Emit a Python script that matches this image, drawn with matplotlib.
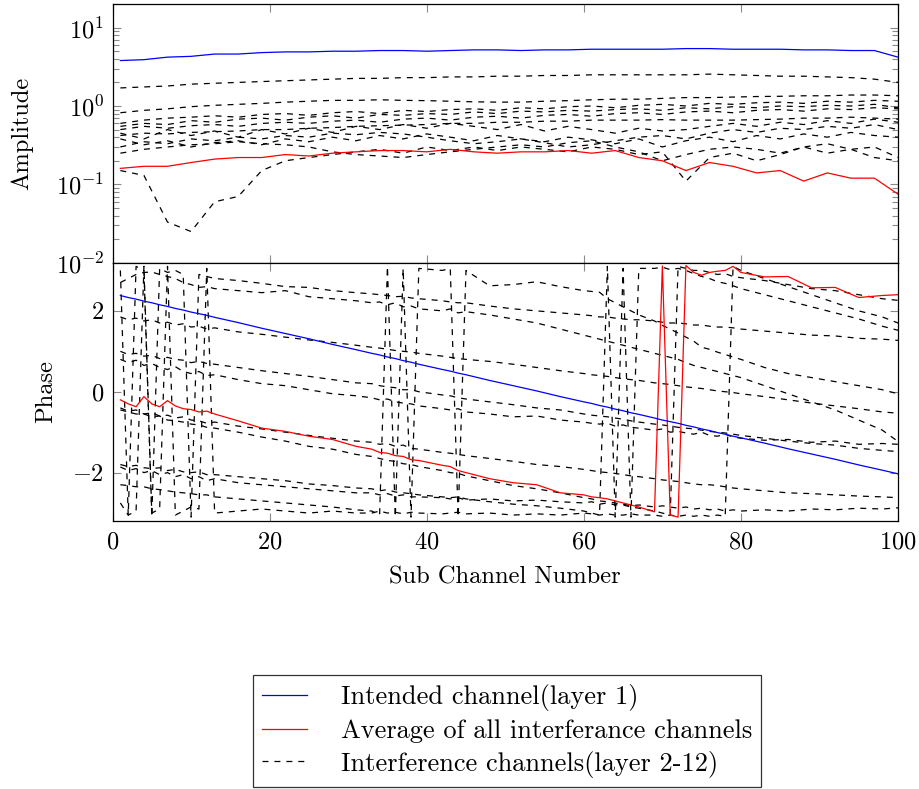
import numpy as np
import matplotlib
matplotlib.use("Agg")
import matplotlib.pyplot as plt
from matplotlib.ticker import LogLocator, NullFormatter, FixedLocator
from matplotlib.lines import Line2D

plt.rcParams['font.family'] = 'serif'
plt.rcParams['font.serif'] = ['cmr10']
plt.rcParams['mathtext.fontset'] = 'cm'
plt.rcParams['axes.formatter.use_mathtext'] = True
plt.rcParams['lines.scale_dashes'] = False

# sub channels used for the amplitude traces (every third one)
sub = np.arange(1, 101, 3)

# ---- amplitude ----
amp_l1 = [3.8, 3.9, 4.2, 4.3, 4.6, 4.6, 4.8, 4.9, 4.9, 5.0, 5.0, 5.1, 5.1, 5.0, 5.1, 5.2, 5.2,
          5.1, 5.2, 5.2, 5.3, 5.3, 5.3, 5.3, 5.4, 5.4, 5.3, 5.3, 5.3, 5.2, 5.2, 5.1, 5.1, 4.2]
amp_avg = [0.16, 0.17, 0.17, 0.19, 0.21, 0.22, 0.22, 0.24, 0.23, 0.25, 0.26, 0.27, 0.27, 0.26, 0.28, 0.26, 0.25,
           0.26, 0.26, 0.27, 0.25, 0.27, 0.22, 0.20, 0.15, 0.19, 0.17, 0.14, 0.15, 0.11, 0.14, 0.12, 0.12, 0.075]
amp_l2 = [1.7, 1.75, 1.8, 1.9, 1.95, 2.0, 2.05, 2.1, 2.15, 2.2, 2.25, 2.25, 2.3, 2.3, 2.35, 2.35, 2.4,
          2.4, 2.45, 2.45, 2.5, 2.5, 2.5, 2.5, 2.5, 2.55, 2.5, 2.45, 2.4, 2.4, 2.35, 2.3, 2.2, 2.0]
amp_l3 = [0.82, 0.88, 0.92, 0.98, 1.02, 1.05, 1.08, 1.12, 1.15, 1.18, 1.18, 1.2, 1.18, 1.17, 1.15, 1.13, 1.12,
          1.12, 1.15, 1.17, 1.2, 1.22, 1.22, 1.25, 1.28, 1.28, 1.3, 1.32, 1.33, 1.35, 1.35, 1.38, 1.38, 1.35]
amp_l4 = [0.6, 0.66, 0.7, 0.72, 0.75, 0.72, 0.78, 0.8, 0.76, 0.82, 0.85, 0.8, 0.88, 0.85, 0.9, 0.92, 0.88,
          0.95, 0.92, 0.98, 1.0, 0.95, 1.02, 1.05, 1.0, 1.08, 1.05, 1.1, 1.12, 1.08, 1.15, 1.12, 1.18, 1.15]
amp_l5 = [0.55, 0.6, 0.58, 0.65, 0.62, 0.68, 0.7, 0.66, 0.72, 0.75, 0.7, 0.78, 0.76, 0.8, 0.78, 0.84, 0.8,
          0.86, 0.84, 0.88, 0.86, 0.9, 0.92, 0.88, 0.95, 0.92, 0.98, 0.95, 1.0, 0.98, 1.02, 1.0, 1.05, 0.95]
amp_l6 = [0.42, 0.45, 0.44, 0.46, 0.47, 0.48, 0.5, 0.5, 0.52, 0.53, 0.55, 0.56, 0.57, 0.58, 0.6, 0.6, 0.62,
          0.62, 0.64, 0.64, 0.66, 0.66, 0.66, 0.67, 0.66, 0.66, 0.66, 0.67, 0.68, 0.7, 0.7, 0.72, 0.7, 0.68]
amp_l7 = [0.45, 0.38, 0.5, 0.42, 0.48, 0.4, 0.5, 0.44, 0.52, 0.46, 0.55, 0.5, 0.58, 0.52, 0.6, 0.55, 0.5,
          0.58, 0.48, 0.55, 0.5, 0.45, 0.52, 0.48, 0.5, 0.55, 0.6, 0.55, 0.62, 0.58, 0.65, 0.6, 0.68, 0.62]
amp_l8 = [0.38, 0.32, 0.36, 0.3, 0.34, 0.36, 0.32, 0.38, 0.35, 0.4, 0.36, 0.42, 0.38, 0.44, 0.4, 0.36, 0.42,
          0.38, 0.35, 0.4, 0.37, 0.33, 0.38, 0.3, 0.36, 0.4, 0.35, 0.42, 0.38, 0.44, 0.4, 0.46, 0.42, 0.4]
amp_l9 = [0.25, 0.28, 0.3, 0.32, 0.33, 0.35, 0.33, 0.32, 0.3, 0.26, 0.24, 0.23, 0.22, 0.24, 0.26, 0.28, 0.3,
          0.32, 0.3, 0.34, 0.36, 0.3, 0.26, 0.2, 0.24, 0.28, 0.3, 0.28, 0.25, 0.3, 0.33, 0.28, 0.22, 0.2]
amp_l10 = [0.5, 0.55, 0.52, 0.56, 0.58, 0.55, 0.6, 0.62, 0.6, 0.64, 0.66, 0.62, 0.68, 0.7, 0.66, 0.72, 0.74,
           0.7, 0.76, 0.78, 0.74, 0.8, 0.82, 0.78, 0.84, 0.86, 0.82, 0.88, 0.9, 0.86, 0.92, 0.9, 0.95, 0.92]
amp_l11 = [0.3, 0.35, 0.33, 0.38, 0.36, 0.4, 0.38, 0.42, 0.4, 0.45, 0.43, 0.46, 0.44, 0.4, 0.36, 0.33, 0.35,
           0.38, 0.34, 0.3, 0.32, 0.36, 0.4, 0.42, 0.38, 0.45, 0.5, 0.46, 0.52, 0.5, 0.55, 0.52, 0.58, 0.5]
amp_l12 = [0.15, 0.13, 0.033, 0.025, 0.06, 0.07, 0.15, 0.2, 0.22, 0.24, 0.26, 0.28, 0.25, 0.3, 0.27, 0.3, 0.27,
           0.3, 0.28, 0.26, 0.3, 0.28, 0.24, 0.26, 0.11, 0.22, 0.25, 0.2, 0.24, 0.3, 0.25, 0.28, 0.3, 0.22]

# ---- phase (denser where the traces wrap around +-pi) ----
phase_x = [1, 2, 3, 4, 5, 6, 7, 8, 9, 10, 11, 12, 13,
           16, 19, 22, 25, 28, 31,
           33, 34, 35, 36, 37, 38, 39,
           42, 43, 44, 45,
           48, 51, 54, 57,
           60, 61, 62, 63, 64, 65, 66, 67,
           69, 70, 71, 72, 73, 74, 75, 76, 77, 78, 79, 80,
           83, 86, 89, 92, 95, 98, 100]

phase_l1 = [2.38, 2.33, 2.29, 2.24, 2.2, 2.15, 2.11, 2.06, 2.02, 1.97, 1.93, 1.89, 1.84,
            1.71, 1.57, 1.44, 1.31, 1.17, 1.04,
            0.95, 0.91, 0.86, 0.82, 0.77, 0.73, 0.68,
            0.55, 0.51, 0.46, 0.42,
            0.28, 0.15, 0.02, -0.12,
            -0.25, -0.29, -0.34, -0.38, -0.43, -0.47, -0.52, -0.56,
            -0.65, -0.7, -0.74, -0.78, -0.83, -0.87, -0.92, -0.96, -1.01, -1.05, -1.1, -1.14,
            -1.27, -1.41, -1.54, -1.67, -1.81, -1.94, -2.03]
phase_avg = [-0.2, -0.3, -0.37, -0.12, -0.3, -0.37, -0.22, -0.35, -0.42, -0.44, -0.5, -0.48, -0.55,
             -0.72, -0.9, -0.98, -1.1, -1.18, -1.35,
             -1.42, -1.5, -1.52, -1.58, -1.6, -1.68, -1.7,
             -1.82, -1.85, -1.95, -2.0,
             -2.15, -2.25, -2.3, -2.5,
             -2.55, -2.6, -2.62, -2.65, -2.7, -2.75, -2.8, -2.85,
             -2.97, 3.11, -3.05, -3.1, 3.12, 2.95, 2.88, 2.95, 2.98, 3.0, 3.1, 2.95,
             2.84, 2.85, 2.57, 2.58, 2.33, 2.38, 2.4]
phase_l2 = [-0.45, -0.5, -0.55, -0.55, -0.62, -0.6, -0.7, -0.72, -0.75, -0.8, -0.82, -0.88, -0.9,
            -1.0, -1.12, -1.22, -1.35, -1.42, -1.55,
            -1.6, -1.65, -1.7, -1.72, -1.78, -1.8, -1.85,
            -1.95, -2.0, -2.02, -2.08,
            -2.2, -2.32, -2.4, -2.5,
            -2.62, -2.65, -2.7, -2.72, -2.75, -2.8, -2.85, -2.88,
            -2.95, -3.0, -3.05, 3.1, 3.05, 3.0, 3.0, 2.95, 2.9, 2.92, 2.85, 2.82,
            2.75, 2.65, 2.55, 2.5, 2.4, 2.3, 2.26]
phase_l3 = [-2.3, -2.32, -2.35, -2.35, -2.4, -2.42, -2.45, -2.48, -2.5, -2.52, -2.55, -2.55, -2.6,
            -2.65, -2.7, -2.75, -2.8, -2.85, -2.92,
            -2.95, -3.05, 3.1, -3.1, 3.05, -3.1, 3.05,
            3.0, 3.05, -3.1, 3.0,
            2.62, 2.65, 2.72, 2.6,
            2.5, 2.48, 2.46, 2.3, 2.2, 2.1, 2.0, 1.9,
            1.75, 1.64, 1.55, 1.45, 1.35, 1.25, 1.1, 1.05, 0.98, 0.92, 0.86, 0.8,
            0.6, 0.45, 0.35, 0.25, 0.15, 0.05, -0.05]
phase_l4 = [3.0, -3.05, 3.1, 3.0, -3.1, 3.05, 2.95, 3.0, 2.9, -3.1, 2.9, 2.85, 2.8,
            2.75, 2.68, 2.6, 2.58, 2.5, 2.45,
            2.42, 2.4, 2.38, 2.35, 2.36, 2.32, 2.3,
            2.25, 2.22, 2.2, 2.2,
            2.12, 2.05, 2.0, 1.95,
            1.9, 1.88, 1.85, 1.85, 1.82, 1.8, 1.78, 1.78,
            1.75, 1.72, 1.7, 1.7, 1.68, 1.65, 1.65, 1.62, 1.6, 1.6, 1.58, 1.55,
            1.5, 1.45, 1.4, 1.38, 1.32, 1.3, 1.27]
phase_l5 = [-1.8, -1.85, -1.82, -1.88, -1.9, -1.88, -1.95, -1.92, -1.98, -2.0, -1.98, -2.05, -2.05,
            -2.1, -2.15, -2.2, -2.28, -2.32, -2.38,
            -2.4, -2.45, -2.42, -2.48, -2.5, -2.52, -2.55,
            -2.6, -2.62, -2.6, -2.65,
            -2.72, -2.78, -2.82, -2.88,
            -2.95, -3.0, -3.05, 3.1, -3.1, 3.05, -3.1, 3.05,
            3.05, 3.08, 3.02, 3.05, 3.0, 2.92, 2.85, 2.8, 2.72, 2.68, 2.62, 2.55,
            2.4, 2.25, 2.1, 1.95, 1.8, 1.62, 1.52]
phase_l6 = [1.85, 1.78, 1.82, 1.75, 1.78, 1.7, 1.72, 1.65, 1.68, 1.6, 1.62, 1.55, 1.58,
            1.48, 1.42, 1.35, 1.28, 1.22, 1.15,
            1.1, 1.08, 1.05, 1.02, 1.0, 0.98, 0.95,
            0.88, 0.85, 0.82, 0.8,
            0.75, 0.68, 0.6, 0.52,
            0.45, 0.42, 0.4, 0.38, 0.35, 0.32, 0.3, 0.28,
            0.22, 0.2, 0.18, 0.15, 0.12, 0.1, 0.08, 0.05, 0.02, 0.0, -0.02, -0.05,
            -0.12, -0.2, -0.28, -0.35, -0.42, -0.5, -0.53]
phase_l7 = [1.0, 0.92, 0.95, 0.88, 0.9, 0.82, 0.85, 0.8, 0.78, 0.72, 0.75, 0.7, 0.68,
            0.6, 0.52, 0.45, 0.38, 0.3, 0.22,
            0.2, 0.15, 0.12, 0.1, 0.05, 0.05, 0.0,
            -0.08, -0.1, -0.15, -0.18,
            -0.25, -0.32, -0.4, -0.45,
            -0.55, -0.58, -0.6, -0.62, -0.65, -0.68, -0.72, -0.75,
            -0.8, -0.82, -0.85, -0.88, -0.9, -0.92, -0.95, -0.98, -1.0, -1.02, -1.05, -1.08,
            -1.15, -1.22, -1.28, -1.32, -1.4, -1.45, -1.48]
phase_l8 = [0.8, 0.72, 0.78, 0.65, 0.7, 0.6, 0.55, 0.62, 0.5, 0.45, 0.5, 0.4, 0.42,
            0.3, 0.2, 0.15, 0.05, -0.05, -0.1,
            -0.15, -0.2, -0.18, -0.25, -0.28, -0.3, -0.35,
            -0.42, -0.45, -0.42, -0.5,
            -0.55, -0.62, -0.6, -0.7,
            -0.75, -0.78, -0.8, -0.78, -0.85, -0.82, -0.88, -0.9,
            -0.95, -0.92, -1.0, -0.98, -1.02, -1.05, -1.0, -1.08, -1.1, -1.05, -1.12, -1.15,
            -1.2, -1.18, -1.25, -1.22, -1.3, -1.28, -1.3]
phase_l9 = [-0.4, -0.48, -0.45, -0.55, -0.52, -0.6, -0.58, -0.65, -0.62, -0.7, -0.72, -0.78, -0.75,
            -0.85, -0.92, -1.0, -1.08, -1.15, -1.22,
            -1.25, -1.3, -1.28, -1.35, -1.32, -1.4, -1.42,
            -1.5, -1.52, -1.55, -1.58,
            -1.65, -1.72, -1.8, -1.85,
            -1.92, -1.95, -1.98, -2.0, -2.02, -2.05, -2.08, -2.1,
            -2.15, -2.18, -2.2, -2.22, -2.25, -2.28, -2.3, -2.3, -2.32, -2.35, -2.38, -2.4,
            -2.45, -2.5, -2.52, -2.55, -2.58, -2.6, -2.62]
phase_l10 = [-1.86, -1.95, -1.9, -2.0, -1.95, -2.05, -2.0, -2.1, -2.05, -2.15, -2.1, -2.2, -2.15,
             -2.25, -2.3, -2.35, -2.4, -2.45, -2.5,
             -2.5, -2.55, -2.52, -2.58, -2.55, -2.6, -2.6,
             -2.62, -2.65, -2.62, -2.68,
             -2.65, -2.7, -2.68, -2.72,
             -2.75, -2.72, -2.78, -2.75, -2.8, -2.78, -2.82, -2.8,
             -2.85, -2.82, -2.85, -2.88, -2.85, -2.9, -2.88, -2.92, -2.9, -2.95, -2.92, -2.95,
             -2.92, -2.95, -2.9, -2.92, -2.88, -2.9, -2.87]
phase_l11 = [2.7, 2.8, 2.9, 2.95, 2.96, 2.9, 2.85, 2.8, 2.7, 2.65, 2.58, 2.6, 2.55,
             2.5, 2.45, 2.5, 2.35, 2.3, 2.25,
             2.2, 2.22, 2.15, 2.2, 2.1, 2.12, 2.05,
             2.0, 2.05, 1.95, 1.98,
             1.9, 1.8, 1.7, 1.55,
             1.4, 1.35, 1.3, 1.25, 1.2, 1.15, 1.1, 1.05,
             0.95, 0.9, 0.85, 0.8, 0.72, 0.65, 0.6, 0.55, 0.5, 0.45, 0.4, 0.35,
             0.15, -0.05, -0.25, -0.45, -0.7, -0.95, -1.23]
phase_l12 = [-2.75, -3.05, -2.95, 3.1, -3.0, -2.9, 3.1, -3.05, -2.95, -2.85, -2.9, 3.05, -3.0,
             -2.95, -2.9, -2.95, -3.0, -2.95, -3.0,
             -3.0, -2.95, -3.0, -2.98, -3.02, -2.98, -3.0,
             -3.02, -3.0, -2.98, -3.02,
             -3.0, -3.05, -3.02, -3.05,
             -3.0, -3.02, -3.05, -3.02, -3.05, -3.05, -3.02, -3.05,
             -3.05, -3.08, -3.05, -3.08, -3.05, -3.08, -3.05, -3.08, -3.05, -3.08, 3.1, 3.0,
             2.8, 2.6, 2.4, 2.2, 2.0, 1.85, 1.7]

amp_interf = [amp_l2, amp_l3, amp_l4, amp_l5, amp_l6, amp_l7, amp_l8, amp_l9, amp_l10, amp_l11, amp_l12]
phase_interf = [phase_l2, phase_l3, phase_l4, phase_l5, phase_l6, phase_l7, phase_l8, phase_l9, phase_l10,
                phase_l11, phase_l12]

FS = 17.6
dash = (0, (4.3, 4.3))
tickcol = '#8a8a8a'

fig = plt.figure(figsize=(9.2, 7.89), dpi=100)
ax1 = fig.add_axes([0.1223, 0.667, 0.8538, 0.3279])
ax2 = fig.add_axes([0.1223, 0.340, 0.8538, 0.327])

for a in amp_interf:
    ax1.plot(sub, a, color='black', lw=0.9, linestyle=dash)
ax1.plot(sub, amp_avg, color='red', lw=0.9)
ax1.plot(sub, amp_l1, color='blue', lw=0.9)
ax1.set_yscale('log')
ax1.set_ylim(1e-2, 20)
ax1.set_xlim(0, 100)
ax1.yaxis.set_major_locator(FixedLocator([1e-2, 1e-1, 1e0, 1e1]))
ax1.yaxis.set_minor_locator(LogLocator(base=10, subs=np.arange(2, 10)))
ax1.yaxis.set_minor_formatter(NullFormatter())
ax1.set_xticks([0, 20, 40, 60, 80, 100])
ax1.set_xticklabels([])
ax1.set_ylabel('Amplitude', fontsize=FS, labelpad=16)

for p in phase_interf:
    ax2.plot(phase_x, p, color='black', lw=0.9, linestyle=dash)
ax2.plot(phase_x, phase_avg, color='red', lw=0.9)
ax2.plot(phase_x, phase_l1, color='blue', lw=0.9)
ax2.set_xlim(0, 100)
ax2.set_ylim(-3.19, 3.19)
ax2.set_yticks([-2, 0, 2])
ax2.set_xticks([0, 20, 40, 60, 80, 100])
ax2.set_ylabel('Phase', fontsize=FS, labelpad=11)
ax2.set_xlabel('Sub Channel Number', fontsize=FS, labelpad=9)

for ax in (ax1, ax2):
    ax.tick_params(which='both', direction='in', top=True, right=True, color=tickcol,
                   labelsize=FS, width=0.8)
    ax.tick_params(which='major', length=5.5)
    ax.tick_params(which='minor', length=4)
    ax.tick_params(axis='x', pad=8)
    ax.tick_params(axis='y', pad=6)
    for s in ax.spines.values():
        s.set_linewidth(0.9)

handles = [Line2D([], [], color='blue', lw=0.9),
           Line2D([], [], color='red', lw=0.9),
           Line2D([], [], color='black', lw=0.9, linestyle=dash)]
labels = ['Intended channel(layer 1)', 'Average of all interferance channels',
          'Interference channels(layer 2-12)']
leg = fig.legend(handles, labels, loc='lower center', bbox_to_anchor=(0.551, 0.003),
                 fontsize=19, fancybox=False, frameon=True, edgecolor='black', borderaxespad=0,
                 handlelength=1.7, handletextpad=1.29, labelspacing=0.3, borderpad=0.34)
leg.get_frame().set_linewidth(0.9)

fig.savefig('out.png', dpi=100)
